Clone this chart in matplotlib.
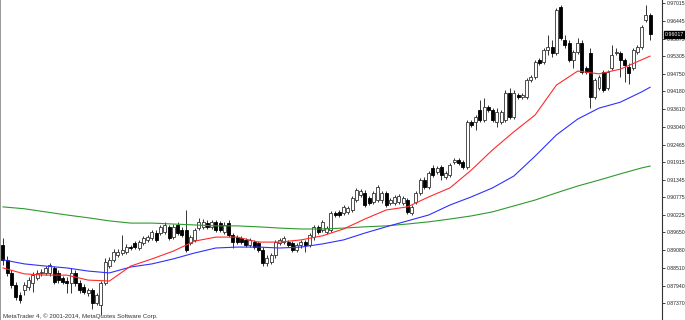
import numpy as np
import matplotlib.pyplot as plt
from matplotlib import transforms

# OHLC, one entry per bar
opens = [0.8925, 0.8877, 0.8835, 0.8796, 0.8764, 0.8780, 0.8790, 0.8803, 0.8819, 0.8835,
         0.8835, 0.8835, 0.8851, 0.8835, 0.8819, 0.8809, 0.8803, 0.8835, 0.8803, 0.8790,
         0.8771, 0.8780, 0.8739, 0.8732, 0.8803, 0.8857, 0.8877, 0.8893, 0.8899, 0.8902,
         0.8918, 0.8931, 0.8915, 0.8931, 0.8941, 0.8947, 0.8963, 0.8963, 0.8966, 0.8983,
         0.8950, 0.8989, 0.8973, 0.8973, 0.8931, 0.8941, 0.8979, 0.8983, 0.8995, 0.8983,
         0.8999, 0.8995, 0.8966, 0.8995, 0.8957, 0.8950, 0.8947, 0.8941, 0.8925, 0.8934,
         0.8931, 0.8909, 0.8867, 0.8870, 0.8893, 0.8931, 0.8934, 0.8934, 0.8931, 0.8909,
         0.8925, 0.8934, 0.8925, 0.8950, 0.8983, 0.8973, 0.8966, 0.8973, 0.9028, 0.9031,
         0.9028, 0.9031, 0.9037, 0.9069, 0.9085, 0.9092, 0.9076, 0.9063, 0.9069, 0.9069,
         0.9092, 0.9060, 0.9060, 0.9063, 0.9060, 0.9069, 0.9028, 0.9063, 0.9092, 0.9133,
         0.9111, 0.9172, 0.9159, 0.9175, 0.9143, 0.9149, 0.9191, 0.9198, 0.9191, 0.9175,
         0.9319, 0.9319, 0.9358, 0.9326, 0.9367, 0.9358, 0.9319, 0.9319, 0.9326, 0.9412,
         0.9335, 0.9406, 0.9400, 0.9400, 0.9454, 0.9464, 0.9519, 0.9512, 0.9551, 0.9560,
         0.9541, 0.9689, 0.9583, 0.9573, 0.9519, 0.9544, 0.9573, 0.9493, 0.9541, 0.9400,
         0.9428, 0.9480, 0.9428, 0.9493, 0.9541, 0.9541, 0.9519, 0.9496, 0.9493, 0.9544,
         0.9560, 0.9647, 0.9663]
highs = [0.8947, 0.8889, 0.8844, 0.8806, 0.8774, 0.8806, 0.8822, 0.8838, 0.8844, 0.8848,
         0.8857, 0.8867, 0.8857, 0.8844, 0.8825, 0.8822, 0.8851, 0.8844, 0.8812, 0.8799,
         0.8787, 0.8787, 0.8771, 0.8809, 0.8883, 0.8886, 0.8912, 0.8912, 0.8957, 0.8928,
         0.8925, 0.8937, 0.8941, 0.8954, 0.8957, 0.8973, 0.8973, 0.8989, 0.8999, 0.8989,
         0.8992, 0.8999, 0.8983, 0.9037, 0.8957, 0.8979, 0.9012, 0.9008, 0.9005, 0.9005,
         0.9005, 0.9002, 0.8999, 0.9005, 0.8963, 0.8957, 0.8954, 0.8947, 0.8947, 0.8941,
         0.8937, 0.8918, 0.8893, 0.8899, 0.8941, 0.8947, 0.8954, 0.8941, 0.8937, 0.8931,
         0.8941, 0.8941, 0.8963, 0.8989, 0.8989, 0.9005, 0.8986, 0.9034, 0.9034, 0.9037,
         0.9053, 0.9050, 0.9082, 0.9108, 0.9104, 0.9101, 0.9082, 0.9098, 0.9117, 0.9098,
         0.9098, 0.9076, 0.9085, 0.9089, 0.9082, 0.9076, 0.9053, 0.9098, 0.9140, 0.9143,
         0.9162, 0.9182, 0.9178, 0.9182, 0.9162, 0.9188, 0.9204, 0.9204, 0.9198, 0.9326,
         0.9326, 0.9342, 0.9390, 0.9396, 0.9374, 0.9364, 0.9364, 0.9358, 0.9422, 0.9428,
         0.9422, 0.9412, 0.9412, 0.9461, 0.9470, 0.9519, 0.9525, 0.9557, 0.9599, 0.9583,
         0.9685, 0.9695, 0.9599, 0.9583, 0.9551, 0.9589, 0.9583, 0.9499, 0.9557, 0.9461,
         0.9470, 0.9486, 0.9486, 0.9567, 0.9557, 0.9547, 0.9525, 0.9509, 0.9557, 0.9567,
         0.9631, 0.9695, 0.9669]
lows = [0.8860, 0.8825, 0.8787, 0.8748, 0.8739, 0.8764, 0.8780, 0.8774, 0.8812, 0.8825,
        0.8828, 0.8825, 0.8799, 0.8803, 0.8799, 0.8771, 0.8771, 0.8793, 0.8771, 0.8767,
        0.8761, 0.8719, 0.8732, 0.8700, 0.8796, 0.8851, 0.8870, 0.8886, 0.8893, 0.8896,
        0.8909, 0.8912, 0.8909, 0.8925, 0.8934, 0.8941, 0.8934, 0.8957, 0.8960, 0.8941,
        0.8944, 0.8957, 0.8950, 0.8902, 0.8925, 0.8934, 0.8973, 0.8976, 0.8976, 0.8976,
        0.8966, 0.8966, 0.8960, 0.8950, 0.8915, 0.8928, 0.8928, 0.8918, 0.8918, 0.8912,
        0.8902, 0.8857, 0.8857, 0.8864, 0.8883, 0.8925, 0.8928, 0.8918, 0.8902, 0.8902,
        0.8915, 0.8902, 0.8918, 0.8941, 0.8960, 0.8966, 0.8960, 0.8966, 0.9015, 0.9015,
        0.9021, 0.9024, 0.9031, 0.9063, 0.9079, 0.9047, 0.9053, 0.9057, 0.9063, 0.9060,
        0.9047, 0.9053, 0.9053, 0.9057, 0.9053, 0.9024, 0.9021, 0.9057, 0.9085, 0.9104,
        0.9104, 0.9143, 0.9153, 0.9133, 0.9137, 0.9143, 0.9185, 0.9182, 0.9169, 0.9169,
        0.9303, 0.9294, 0.9319, 0.9319, 0.9352, 0.9319, 0.9303, 0.9313, 0.9319, 0.9329,
        0.9329, 0.9393, 0.9393, 0.9393, 0.9448, 0.9457, 0.9502, 0.9506, 0.9535, 0.9528,
        0.9535, 0.9583, 0.9557, 0.9512, 0.9493, 0.9538, 0.9474, 0.9474, 0.9364, 0.9393,
        0.9422, 0.9416, 0.9422, 0.9486, 0.9535, 0.9464, 0.9448, 0.9441, 0.9486, 0.9538,
        0.9554, 0.9640, 0.9583]
closes = [0.8877, 0.8835, 0.8796, 0.8758, 0.8748, 0.8796, 0.8812, 0.8828, 0.8835, 0.8838,
          0.8851, 0.8860, 0.8806, 0.8812, 0.8806, 0.8803, 0.8835, 0.8803, 0.8780, 0.8774,
          0.8780, 0.8739, 0.8764, 0.8803, 0.8870, 0.8877, 0.8902, 0.8902, 0.8909, 0.8918,
          0.8915, 0.8918, 0.8934, 0.8947, 0.8950, 0.8966, 0.8941, 0.8983, 0.8989, 0.8947,
          0.8983, 0.8963, 0.8957, 0.8909, 0.8950, 0.8973, 0.8999, 0.8999, 0.8983, 0.8999,
          0.8973, 0.8973, 0.8989, 0.8957, 0.8934, 0.8934, 0.8934, 0.8925, 0.8941, 0.8918,
          0.8909, 0.8867, 0.8883, 0.8893, 0.8934, 0.8941, 0.8947, 0.8925, 0.8909, 0.8925,
          0.8934, 0.8925, 0.8957, 0.8983, 0.8966, 0.8999, 0.8979, 0.9028, 0.9021, 0.9021,
          0.9047, 0.9044, 0.9076, 0.9101, 0.9098, 0.9053, 0.9060, 0.9092, 0.9111, 0.9092,
          0.9053, 0.9069, 0.9079, 0.9082, 0.9076, 0.9031, 0.9047, 0.9092, 0.9133, 0.9111,
          0.9156, 0.9149, 0.9172, 0.9149, 0.9156, 0.9182, 0.9198, 0.9188, 0.9175, 0.9319,
          0.9310, 0.9335, 0.9326, 0.9367, 0.9358, 0.9326, 0.9352, 0.9352, 0.9412, 0.9335,
          0.9412, 0.9400, 0.9406, 0.9454, 0.9464, 0.9512, 0.9509, 0.9551, 0.9560, 0.9541,
          0.9679, 0.9589, 0.9567, 0.9519, 0.9544, 0.9573, 0.9480, 0.9480, 0.9400, 0.9454,
          0.9464, 0.9422, 0.9480, 0.9535, 0.9544, 0.9519, 0.9502, 0.9477, 0.9551, 0.9560,
          0.9624, 0.9663, 0.96017]

# moving averages, sampled every 5 bars
ma_bars = [0, 5, 10, 15, 20, 25, 30, 35, 40, 45, 50, 55, 60, 65, 70, 75,
           80, 85, 90, 95, 100, 105, 110, 115, 120, 125, 130, 135, 140, 145, 150, 152]
ma_fast = [0.8851, 0.8832, 0.8828, 0.8828, 0.8812, 0.8809, 0.8857, 0.8880, 0.8905, 0.8937,
           0.8950, 0.8950, 0.8934, 0.8934, 0.8941, 0.8954, 0.8976, 0.9008, 0.9037, 0.9047,
           0.9079, 0.9108, 0.9165, 0.9230, 0.9288, 0.9342, 0.9438, 0.9483, 0.9474, 0.9489,
           0.9519, 0.9531]
ma_mid = [0.8877, 0.8864, 0.8857, 0.8851, 0.8841, 0.8835, 0.8854, 0.8864, 0.8880, 0.8899,
          0.8915, 0.8918, 0.8918, 0.8915, 0.8918, 0.8928, 0.8941, 0.8963, 0.8983, 0.9002,
          0.9021, 0.9053, 0.9079, 0.9108, 0.9146, 0.9210, 0.9278, 0.9329, 0.9364, 0.9383,
          0.9416, 0.9431]
ma_slow = [0.9047, 0.9041, 0.9031, 0.9021, 0.9012, 0.9002, 0.8995, 0.8995, 0.8992, 0.8989,
           0.8986, 0.8986, 0.8983, 0.8979, 0.8976, 0.8976, 0.8979, 0.8983, 0.8986, 0.8992,
           0.8999, 0.9008, 0.9018, 0.9031, 0.9050, 0.9069, 0.9092, 0.9114, 0.9133, 0.9153,
           0.9172, 0.9178]

price_ticks = ['0.97015', '0.96445', '0.95875', '0.95305', '0.94750', '0.94180',
               '0.93610', '0.93040', '0.92465', '0.91915', '0.91345', '0.90775',
               '0.90225', '0.89650', '0.89080', '0.88510', '0.87940', '0.87370']
last_price = '0.96017'

plt.rcParams['font.family'] = ['Liberation Sans', 'DejaVu Sans']

fig = plt.figure(figsize=(6.85, 3.2), dpi=100)
ax = fig.add_axes([0, 0, 662 / 685, 1])

x = np.arange(len(closes))
o = np.array(opens)
c = np.array(closes)
up = c >= o

# wicks
ax.vlines(x, lows, highs, color='#333333', linewidth=0.7, zorder=1)
# bodies
ax.bar(x[up], (c - o)[up], bottom=o[up], width=0.7, color='white',
       edgecolor='#333333', linewidth=0.6, zorder=2)
ax.bar(x[~up], (c - o)[~up], bottom=o[~up], width=0.7, color='black',
       edgecolor='black', linewidth=0.6, zorder=2)

ax.plot(ma_bars, ma_slow, color='#2e9a2e', linewidth=0.8, zorder=3)
ax.plot(ma_bars, ma_mid, color='#3030ff', linewidth=0.8, zorder=3)
ax.plot(ma_bars, ma_fast, color='#ff2a2a', linewidth=0.8, zorder=3)

ax.set_xlim(-0.7, 154.8)
ax.set_ylim(0.86839, 0.97111)
ax.set_xticks([])
ax.yaxis.tick_right()
ax.set_yticks([float(t) for t in price_ticks])
ax.set_yticklabels(price_ticks)
ax.tick_params(axis='y', length=2.5, width=0.6, pad=0.8, labelsize=3.7, colors='#222222')

for side in ['top', 'bottom']:
    ax.spines[side].set_visible(False)
ax.spines['right'].set_color('#333333')
ax.spines['right'].set_linewidth(0.8)
ax.spines['left'].set_color('#888888')
ax.spines['left'].set_linewidth(1.2)

# current price marker on the axis
trans = transforms.blended_transform_factory(ax.transAxes, ax.transData)
ax.text(1.004, float(last_price), last_price, transform=trans, fontsize=3.8,
        color='white', va='center', ha='left', clip_on=False,
        bbox=dict(boxstyle='square,pad=0.2', facecolor='black', edgecolor='black'))

ax.text(0.005, 0.004, 'MetaTrader 4, \u00a9 2001-2014, MetaQuotes Software Corp.',
        transform=ax.transAxes, fontsize=4.4, color='#333333', va='bottom', ha='left')

fig.savefig('out.png', dpi=100)
